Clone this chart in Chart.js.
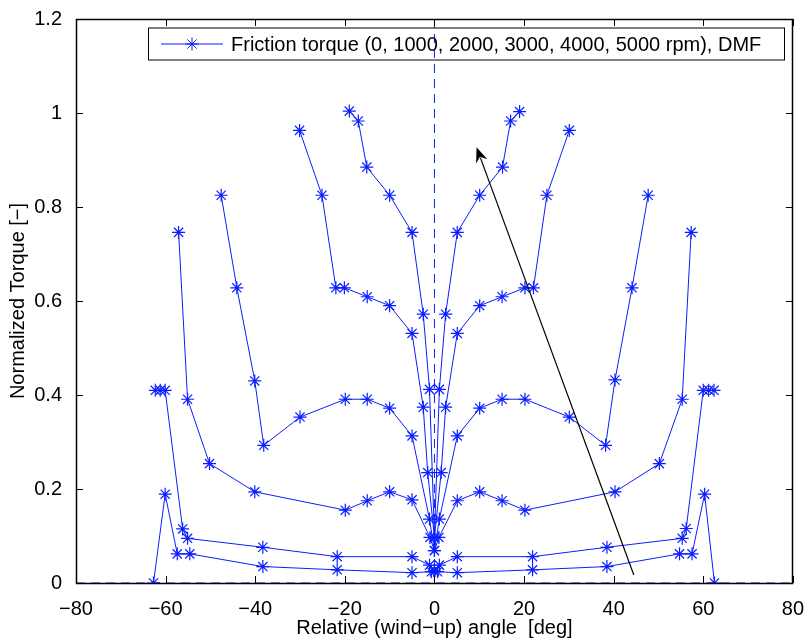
<!DOCTYPE html>
<html>
<head>
    <title>Friction torque DMF</title>
    <script src="https://cdn.jsdelivr.net/npm/chart.js"></script>
    <style>
        body { margin: 0; background: #fff; }
        canvas { display: block; }
    </style>
</head>
<body>
    <canvas id="grafikTorsi" width="810" height="641"></canvas>
</body>
<script>
    // curves from bottom (0 rpm) to top (5000 rpm), angle [deg] and normalized torque
    const angle0 = [-62.7, -60.1, -57.4, -54.6, -38.3, -21.7, -5.0, -0.7, 0, 0.7, 5.1, 21.9, 38.5, 54.7, 57.5, 60.3, 62.5];
    const torque0 = [0, 0.189, 0.062, 0.062, 0.035, 0.028, 0.022, 0.024, 0.024, 0.024, 0.022, 0.028, 0.035, 0.062, 0.062, 0.189, 0];

    const angle1000 = [-62.3, -61.2, -60.1, -56.2, -55.1, -38.3, -21.7, -5.0, -1.1, 0, 1.1, 5.1, 21.9, 38.5, 55.3, 56.2, 60.0, 61.2, 62.4];
    const torque1000 = [0.41, 0.41, 0.41, 0.115, 0.095, 0.076, 0.056, 0.056, 0.038, 0.026, 0.038, 0.056, 0.056, 0.076, 0.095, 0.116, 0.41, 0.41, 0.41];

    const angle2000 = [-57.1, -55.1, -50.2, -40.1, -19.9, -15.0, -10.0, -5.0, -1.0, 0, 1.0, 5.1, 10.1, 15.1, 20.2, 40.3, 50.2, 55.3, 57.3];
    const torque2000 = [0.746, 0.391, 0.254, 0.194, 0.155, 0.175, 0.194, 0.177, 0.097, 0.069, 0.097, 0.175, 0.194, 0.175, 0.155, 0.194, 0.254, 0.391, 0.746];

    const angle3000 = [-47.6, -44.1, -40.1, -38.1, -30.0, -19.9, -15.0, -10.0, -5.0, -1.1, 0, 1.1, 5.1, 10.1, 15.1, 20.2, 30.1, 38.2, 40.3, 44.1, 47.7];
    const torque3000 = [0.825, 0.628, 0.43, 0.293, 0.353, 0.391, 0.391, 0.372, 0.313, 0.136, 0.069, 0.136, 0.313, 0.372, 0.391, 0.391, 0.353, 0.293, 0.432, 0.628, 0.825];

    const angle4000 = [-30.1, -25.1, -22.0, -20.1, -15.0, -10.0, -5.0, -2.5, -1.5, 0, 1.5, 2.5, 5.1, 10.1, 15.1, 20.2, 22.1, 25.1, 30.1];
    const torque4000 = [0.963, 0.825, 0.628, 0.628, 0.609, 0.59, 0.531, 0.374, 0.235, 0.097, 0.235, 0.374, 0.531, 0.59, 0.609, 0.628, 0.628, 0.825, 0.963];

    const angle5000 = [-19.0, -17.0, -15.1, -10.0, -5.0, -2.5, -1.1, 0, 1.1, 2.5, 5.1, 10.1, 15.2, 17.0, 19.0];
    const torque5000 = [1.004, 0.983, 0.885, 0.825, 0.746, 0.572, 0.412, 0.097, 0.412, 0.572, 0.746, 0.825, 0.885, 0.983, 1.003];

    const xTicks = [-80, -60, -40, -20, 0, 20, 40, 60, 80];
    const yTicks = [0, 0.2, 0.4, 0.6, 0.8, 1, 1.2];
    const yTickLabels = ['0', '0.2', '0.4', '0.6', '0.8', '1', '1.2'];

    // arrow showing increasing speed (tail -> head), data units
    const arrowFrom = [44.5, 0.017];
    const arrowTo = [9.4, 0.927];

    const legendText = 'Friction torque (0, 1000, 2000, 3000, 4000, 5000 rpm), DMF';
    const biru = '#0a1eff';
    const fontName = '"Liberation Sans", Arial, Helvetica, sans-serif';

    function toPoints(xs, ys) {
        return xs.map((x, i) => ({ x: x, y: ys[i] }));
    }

    function curve(xs, ys) {
        return {
            data: toPoints(xs, ys),
            showLine: true,
            borderColor: biru,
            borderWidth: 1,
            pointStyle: 'star',
            pointRadius: 6.5,
            pointBorderWidth: 1.2,
            pointBorderColor: biru,
            backgroundColor: biru,
            order: 1
        };
    }

    function dashed(xs, ys) {
        return {
            data: toPoints(xs, ys),
            showLine: true,
            borderColor: biru,
            borderWidth: 1,
            borderDash: [9, 6],
            pointRadius: 0,
            order: 2
        };
    }

    const datasets = [
        curve(angle0, torque0),
        curve(angle1000, torque1000),
        curve(angle2000, torque2000),
        curve(angle3000, torque3000),
        curve(angle4000, torque4000),
        curve(angle5000, torque5000),
        dashed([0, 0], [yTicks[0], yTicks[yTicks.length - 1]]),
        dashed([xTicks[0], xTicks[xTicks.length - 1]], [0, 0])
    ];

    // box, inward ticks, legend and arrow like the matlab figure
    const bingkai = {
        id: 'bingkai',
        afterDraw(chart) {
            const c = chart.ctx;
            const a = chart.chartArea;
            const sx = chart.scales.x;
            const sy = chart.scales.y;
            const tl = 7;
            c.save();
            c.strokeStyle = '#000';
            c.lineWidth = 1;
            c.beginPath();
            xTicks.forEach(v => {
                const px = Math.round(sx.getPixelForValue(v)) + 0.5;
                c.moveTo(px, a.bottom); c.lineTo(px, a.bottom - tl);
                c.moveTo(px, a.top); c.lineTo(px, a.top + tl);
            });
            yTicks.forEach(v => {
                const py = Math.round(sy.getPixelForValue(v)) + 0.5;
                c.moveTo(a.left, py); c.lineTo(a.left + tl, py);
                c.moveTo(a.right, py); c.lineTo(a.right - tl, py);
            });
            c.stroke();
            c.lineWidth = 1.5;
            c.strokeRect(Math.round(a.left) + 0.5, Math.round(a.top) + 0.5,
                Math.round(a.right - a.left) - 1, Math.round(a.bottom - a.top));

            // legend (no fill, the dashed zero line shows through)
            const lx = a.left + 72, ly = a.top + 8.5, lw = 636, lh = 32;
            c.lineWidth = 1;
            c.strokeStyle = '#000';
            c.strokeRect(lx + 0.5, ly + 0.5, lw, lh);
            const my = ly + lh / 2 + 0.5;
            c.strokeStyle = biru;
            c.beginPath();
            c.moveTo(lx + 13, my); c.lineTo(lx + 75, my);
            c.stroke();
            c.fillStyle = biru;
            Chart.helpers.drawPoint(c, { pointStyle: 'star', radius: 6.5, borderWidth: 1.2 }, lx + 44, my);
            c.fillStyle = '#000';
            c.font = '20px ' + fontName;
            c.textBaseline = 'middle';
            c.fillText(legendText, lx + 83, my + 1);

            // arrow
            const x1 = sx.getPixelForValue(arrowFrom[0]), y1 = sy.getPixelForValue(arrowFrom[1]);
            const x2 = sx.getPixelForValue(arrowTo[0]), y2 = sy.getPixelForValue(arrowTo[1]);
            const ang = Math.atan2(y2 - y1, x2 - x1);
            const hl = 15, hw = 6;
            const bx = x2 - hl * Math.cos(ang), by = y2 - hl * Math.sin(ang);
            c.strokeStyle = '#000';
            c.lineWidth = 1.2;
            c.beginPath();
            c.moveTo(x1, y1); c.lineTo(bx + 4 * Math.cos(ang), by + 4 * Math.sin(ang));
            c.stroke();
            const nx = -Math.sin(ang), ny = Math.cos(ang);
            c.fillStyle = '#000';
            c.beginPath();
            c.moveTo(x2, y2);
            c.lineTo(bx + nx * hw, by + ny * hw);
            c.lineTo(x2 - (hl - 5) * Math.cos(ang), y2 - (hl - 5) * Math.sin(ang));
            c.lineTo(bx - nx * hw, by - ny * hw);
            c.closePath();
            c.fill();
            c.restore();
        }
    };

    const ctx = document.getElementById('grafikTorsi').getContext('2d');

    var grafik = new Chart(ctx, {
        type: 'scatter',
        data: { datasets: datasets },
        options: {
            responsive: false,
            animation: false,
            layout: { padding: { top: 19, right: 17, left: 0, bottom: 0 } },
            plugins: {
                legend: { display: false },
                tooltip: { enabled: false }
            },
            scales: {
                x: {
                    type: 'linear',
                    min: xTicks[0],
                    max: xTicks[xTicks.length - 1],
                    afterBuildTicks: s => { s.ticks = xTicks.map(v => ({ value: v })); },
                    afterFit: s => { s.height = 58; },
                    grid: { display: false },
                    border: { display: false },
                    ticks: {
                        color: '#000',
                        padding: 6,
                        maxRotation: 0,
                        font: { family: fontName, size: 20 },
                        callback: v => v < 0 ? '\u2212' + Math.abs(v) : String(v)
                    },
                    title: {
                        display: true,
                        text: 'Relative (wind\u2212up) angle  [deg]',
                        color: '#000',
                        font: { family: fontName, size: 20 },
                        padding: { top: 0, bottom: 1 }
                    }
                },
                y: {
                    min: yTicks[0],
                    max: yTicks[yTicks.length - 1],
                    afterBuildTicks: s => { s.ticks = yTicks.map(v => ({ value: v })); },
                    afterFit: s => { s.width = 76; },
                    grid: { display: false },
                    border: { display: false },
                    ticks: {
                        color: '#000',
                        padding: 6,
                        font: { family: fontName, size: 20 },
                        callback: (v, i) => yTickLabels[i]
                    },
                    title: {
                        display: true,
                        text: 'Normalized Torque [\u2212]',
                        color: '#000',
                        font: { family: fontName, size: 20 },
                        padding: { top: 6, bottom: 0 }
                    }
                }
            }
        },
        plugins: [bingkai]
    });
</script>
</html>
